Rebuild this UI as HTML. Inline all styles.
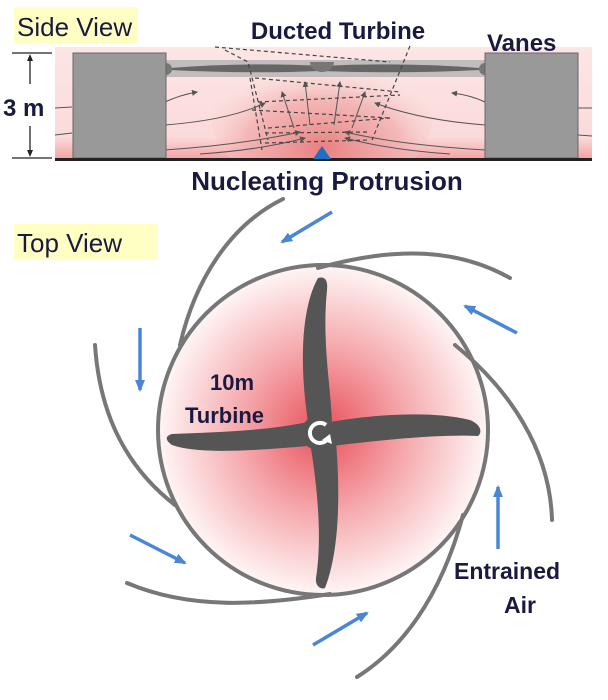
<!DOCTYPE html>
<html><head><meta charset="utf-8"><style>
html,body{margin:0;padding:0;background:#fff;}
svg{display:block;}
text{font-family:"Liberation Sans",sans-serif;fill:#1a1a40;}
</style></head><body>
<svg width="608" height="700" viewBox="0 0 608 700" xmlns="http://www.w3.org/2000/svg">
<defs>
<linearGradient id="band" x1="0" y1="0" x2="0" y2="1">
<stop offset="0" stop-color="#fde6e6"/><stop offset="0.8" stop-color="#fbdada"/><stop offset="1" stop-color="#f3a0a0"/>
</linearGradient>
<radialGradient id="cone" cx="0.5" cy="0.7" r="0.6">
<stop offset="0" stop-color="#e98080"/><stop offset="0.6" stop-color="#f2b0b0" stop-opacity="0.8"/><stop offset="1" stop-color="#fbdcdc" stop-opacity="0"/>
</radialGradient>
<radialGradient id="disk" cx="0.5" cy="0.5" r="0.5">
<stop offset="0" stop-color="#e8505a"/><stop offset="0.5" stop-color="#f5a8ac"/><stop offset="1" stop-color="#fff6f6"/>
</radialGradient>
<clipPath id="bc"><rect x="55" y="47" width="537" height="113"/></clipPath>
<marker id="ah" markerWidth="6" markerHeight="6" refX="5" refY="3" orient="auto" markerUnits="userSpaceOnUse"><path d="M0,0 L6,3 L0,6 z" fill="#555"/></marker>
<marker id="bh" markerWidth="12" markerHeight="10" refX="10" refY="5" orient="auto" markerUnits="userSpaceOnUse"><path d="M0,0 L12,5 L0,10 z" fill="#4a86d4"/></marker>
</defs>

<!-- SIDE VIEW -->
<rect x="14" y="7" width="124" height="36" fill="#ffffc4"/>
<text x="17" y="36" font-size="26">Side View</text>
<rect x="55" y="47" width="537" height="113" fill="url(#band)"/>
<g clip-path="url(#bc)"><ellipse cx="322" cy="120" rx="110" ry="70" fill="url(#cone)"/></g>
<rect x="165" y="60" width="322" height="17" fill="#b3b3b3" opacity="0.8"/>
<path d="M170,68 Q250,62 320,66 L320,71 Q250,74 170,70 z" fill="#666"/>
<path d="M320,66 Q400,62 480,68 L480,70 Q400,74 320,71 z" fill="#666"/>
<path d="M310,62 h24 a12,10 0 0 1 -24,0 z" fill="#777"/>
<circle cx="166" cy="69" r="6" fill="#777"/><circle cx="485" cy="69" r="6" fill="#777"/>
<g fill="none" stroke="#555" stroke-width="1">
<path d="M165,102 Q180,95 197,92" marker-end="url(#ah)"/>
<path d="M165,125 Q230,120 265,103" marker-end="url(#ah)"/>
<path d="M165,150 Q240,145 300,132" marker-end="url(#ah)"/>
<path d="M200,154 Q260,150 305,138" marker-end="url(#ah)"/>
<path d="M485,102 Q470,95 452,93" marker-end="url(#ah)"/>
<path d="M485,125 Q420,120 375,103" marker-end="url(#ah)"/>
<path d="M485,150 Q400,145 345,132" marker-end="url(#ah)"/>
<path d="M450,154 Q390,150 345,138" marker-end="url(#ah)"/>
<path d="M294,128 L282,92" marker-end="url(#ah)"/>
<path d="M310,125 L305,82" marker-end="url(#ah)"/>
<path d="M334,125 L340,82" marker-end="url(#ah)"/>
<path d="M352,128 L365,92" marker-end="url(#ah)"/>
<path d="M55,108 L72,107 M55,135 L72,133 M578,108 L592,108 M578,135 L592,136"/>
</g>
<g fill="none" stroke="#444" stroke-width="1.2" stroke-dasharray="4,3">
<path d="M215,47 L390,62 M225,50 L248,62 L268,140 M410,46 L372,140"/>
<path d="M255,78 L400,92 M258,102 L400,95 M252,110 L390,118 M268,128 L390,118 M265,133 L370,132 M265,143 L370,140 M250,78 L262,150"/>
</g>
<rect x="73" y="53" width="93" height="105" fill="#999" stroke="#666" stroke-width="1"/>
<rect x="485" y="53" width="93" height="105" fill="#999" stroke="#666" stroke-width="1"/>
<rect x="55" y="158" width="537" height="3" fill="#222"/>
<path d="M322,146 L331,159 L313,159 z" fill="#1f6fc4"/>
<g stroke="#222" stroke-width="1.3" fill="#222">
<line x1="12" y1="53" x2="52" y2="53"/><line x1="12" y1="158" x2="52" y2="158"/>
<line x1="30" y1="57" x2="30" y2="84"/><line x1="30" y1="126" x2="30" y2="154"/>
<path d="M30,54 l-3,7 h6z M30,157 l-3,-7 h6z" stroke="none"/>
</g>
<text x="3" y="116" font-size="24" font-weight="bold">3 m</text>
<text x="338" y="39" font-size="24" font-weight="bold" text-anchor="middle">Ducted Turbine</text>
<text x="487" y="51" font-size="24" font-weight="bold">Vanes</text>
<text x="327" y="190" font-size="26" font-weight="bold" text-anchor="middle">Nucleating Protrusion</text>

<!-- TOP VIEW -->
<rect x="14" y="224" width="144" height="36" fill="#ffffc4"/>
<text x="17" y="252" font-size="26">Top View</text>
<circle cx="323" cy="430" r="165" fill="url(#disk)" stroke="#777" stroke-width="4"/>
<g fill="none" stroke="#777" stroke-width="4" stroke-linecap="round">
<path d="M283,199 C230,225 195,280 180,345"/>
<path d="M318,268 C400,245 460,250 510,278"/>
<path d="M455,345 C510,390 550,450 552,520"/>
<path d="M463,515 C440,600 400,650 357,677"/>
<path d="M127,583 C190,610 260,605 330,594"/>
<path d="M95,345 C100,420 130,470 175,505"/>
</g>
<g stroke="#4a86d4" stroke-width="3.5" fill="none">
<path d="M332,212 L282,242" marker-end="url(#bh)"/>
<path d="M517,333 L465,306" marker-end="url(#bh)"/>
<path d="M140,328 L140,390" marker-end="url(#bh)"/>
<path d="M130,535 L185,563" marker-end="url(#bh)"/>
<path d="M313,645 L367,613" marker-end="url(#bh)"/>
<path d="M498,549 L498,487" marker-end="url(#bh)"/>
</g>
<g fill="#555">
<path d="M308,422 C300,370 300,310 318,278 C325,276 328,280 327,290 C322,340 330,380 332,422 z"/>
<path d="M330,422 C370,415 430,410 470,420 C482,425 482,433 478,436 C440,434 380,440 332,446 z"/>
<path d="M336,442 C340,490 340,550 325,588 C320,590 315,585 316,578 C322,540 318,490 310,442 z"/>
<path d="M308,446 C260,450 200,455 172,445 C165,440 165,436 172,434 C210,432 260,432 308,422 z"/>
</g>
<circle cx="318" cy="433" r="17" fill="#555"/>
<path d="M326,425 A10,10 0 1 0 327,440" fill="none" stroke="#fff" stroke-width="4"/>
<path d="M322,440 L330,434 L332,444 z" fill="#fff"/>
<text x="210" y="390" font-size="22" font-weight="bold">10m</text>
<text x="185" y="423" font-size="22" font-weight="bold">Turbine</text>
<text x="454" y="579" font-size="23" font-weight="bold">Entrained</text>
<text x="504" y="613" font-size="23" font-weight="bold">Air</text>
</svg>
</body></html>
